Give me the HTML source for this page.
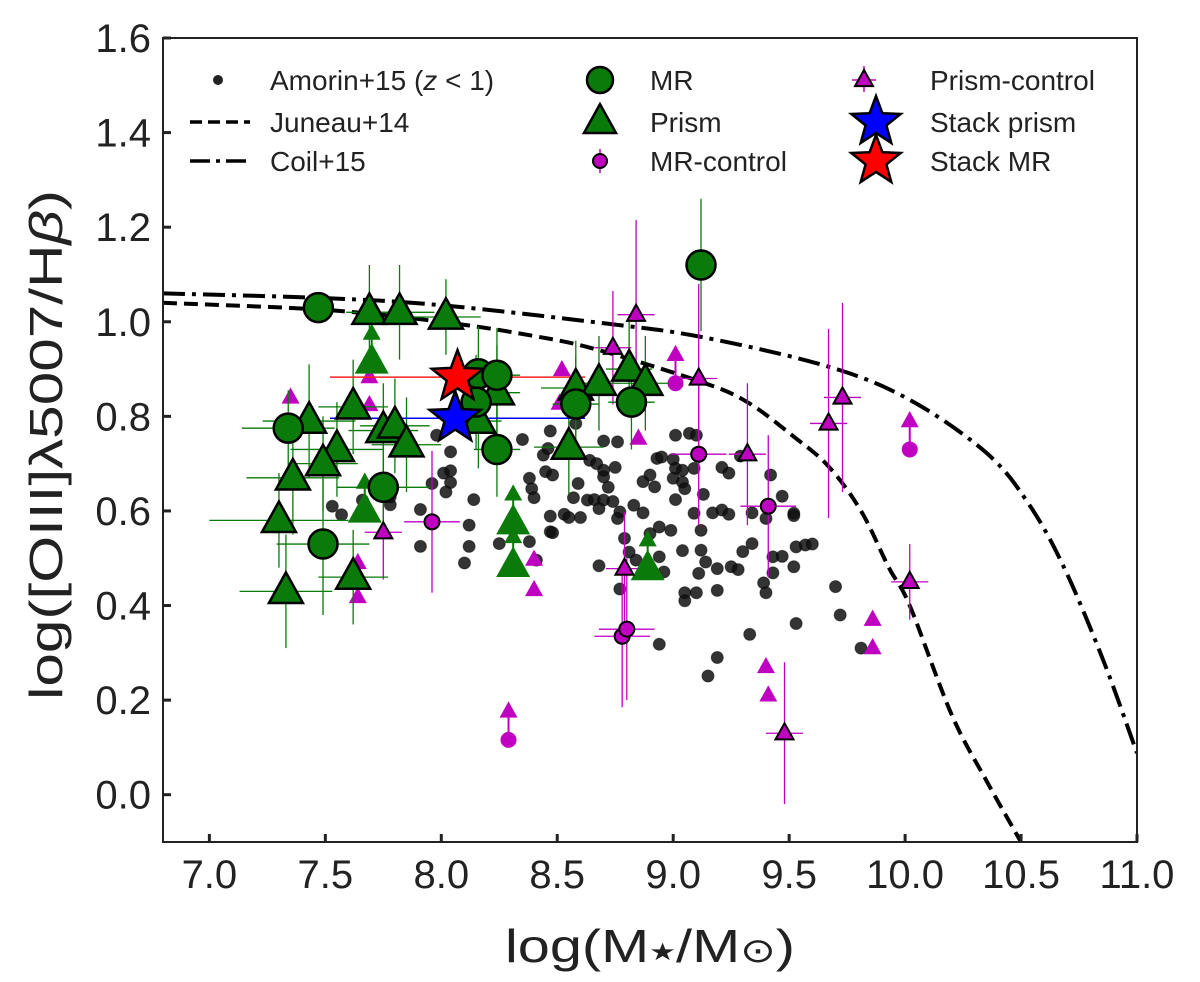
<!DOCTYPE html>
<html><head><meta charset="utf-8">
<style>
html,body{margin:0;padding:0;background:#fff;}
svg{display:block;font-family:"Liberation Sans",Arial,sans-serif;}
</style></head>
<body>
<svg id="chart" width="1200" height="982" viewBox="0 0 1200 982">
  <g id="marks"></g>
  <rect x="163" y="38" width="974" height="804" fill="none" stroke="#222" stroke-width="2"/>
  <g id="axes"></g>
  <text x="650" y="962" font-size="46" text-anchor="middle" fill="#222" textLength="290" lengthAdjust="spacingAndGlyphs">log(M<tspan font-size="24" dy="-2">★</tspan><tspan dy="2">/M</tspan><tspan font-size="34">⊙</tspan>)</text>
  <text transform="translate(62,445) rotate(-90)" font-size="46" text-anchor="middle" fill="#222" textLength="510" lengthAdjust="spacingAndGlyphs">log([OIII]λ5007/H<tspan font-style="italic">β</tspan>)</text>
  <g id="legend"></g>
</svg>
<script>
const xTicks=[7.0,7.5,8.0,8.5,9.0,9.5,10.0,10.5,11.0];
const xTickLabels=["7.0","7.5","8.0","8.5","9.0","9.5","10.0","10.5","11.0"];
const yTicks=[0.0,0.2,0.4,0.6,0.8,1.0,1.2,1.4,1.6];
const yTickLabels=["0.0","0.2","0.4","0.6","0.8","1.0","1.2","1.4","1.6"];

const amorinX=[7.53,7.57,7.66,7.78,7.78,7.98,8.04,8.01,8.04,8.04,8.02,7.96,8.14,7.91,8.12,7.91,8.12,8.10,8.25,8.38,8.41,8.35,8.47,8.44,8.46,8.45,8.48,8.38,8.39,8.40,8.47,8.53,8.55,8.60,8.47,8.48,8.57,8.59,8.58,8.70,8.76,8.64,8.67,8.70,8.70,8.75,8.72,8.63,8.66,8.70,8.74,8.68,8.77,8.76,8.83,8.87,8.79,8.81,8.84,8.68,8.77,8.94,8.99,8.90,8.94,8.96,8.87,8.90,8.92,8.93,8.95,9.00,9.01,9.04,9.09,9.00,9.04,9.05,9.01,9.01,9.07,9.10,9.13,9.09,9.17,9.21,9.24,9.12,9.04,9.12,9.14,9.11,9.19,9.25,9.28,9.05,9.10,9.05,9.19,9.21,9.24,9.29,9.34,9.42,9.47,9.52,9.40,9.30,9.34,9.43,9.47,9.43,9.52,9.53,9.57,9.39,9.40,9.53,9.33,9.19,9.15,8.94,9.70,9.72,9.81,9.60,9.52];
const amorinY=[0.61,0.592,0.623,0.613,0.63,0.76,0.725,0.68,0.685,0.66,0.64,0.658,0.624,0.603,0.57,0.525,0.525,0.49,0.531,0.535,0.496,0.751,0.769,0.718,0.732,0.683,0.676,0.669,0.647,0.628,0.589,0.593,0.586,0.586,0.556,0.554,0.628,0.658,0.785,0.748,0.746,0.707,0.70,0.686,0.672,0.692,0.65,0.623,0.624,0.623,0.62,0.605,0.598,0.584,0.612,0.596,0.542,0.513,0.496,0.484,0.435,0.566,0.559,0.552,0.503,0.471,0.662,0.676,0.651,0.711,0.714,0.709,0.69,0.686,0.69,0.669,0.661,0.647,0.624,0.76,0.764,0.76,0.635,0.595,0.596,0.602,0.593,0.559,0.516,0.517,0.492,0.468,0.478,0.482,0.476,0.427,0.427,0.41,0.432,0.692,0.68,0.716,0.596,0.676,0.631,0.595,0.584,0.514,0.531,0.503,0.504,0.469,0.482,0.524,0.528,0.448,0.427,0.362,0.339,0.29,0.251,0.318,0.44,0.38,0.31,0.53,0.59];

const juneauX=[6.8,7.5,8.0,8.4,8.68,9.12,9.32,9.52,9.67,9.81,9.93,10.02,10.2,10.35,10.5];
const juneauY=[1.04,1.025,1.0,0.97,0.94,0.873,0.83,0.757,0.694,0.60,0.48,0.40,0.17,0.03,-0.1];
const coilX=[6.8,7.5,8.0,8.68,9.12,9.67,10.02,10.35,10.53,10.68,10.85,11.0];
const coilY=[1.06,1.05,1.035,0.998,0.968,0.905,0.835,0.723,0.617,0.486,0.29,0.088];

const mrX=[7.47,9.12,7.34,7.75,7.49,8.16,8.24,8.15,8.24,8.58,8.82];
const mrY=[1.03,1.12,0.775,0.65,0.53,0.89,0.887,0.83,0.73,0.826,0.83];
const mrXe=[0.05,0.03,0.2,0.2,0.2,0.1,0.1,0.1,0.1,0.1,0.1];
const mrYe=[0.03,0.14,0.08,0.1,0.15,0.1,0.1,0.1,0.1,0.1,0.1];

const prismX=[7.69,7.82,8.02,7.43,7.62,7.75,7.80,7.85,7.55,7.49,7.36,7.30,7.33,7.62,8.24,8.16,8.55,8.58,8.68,8.81,8.88];
const prismY=[1.02,1.02,1.01,0.79,0.82,0.77,0.78,0.74,0.73,0.70,0.67,0.58,0.43,0.46,0.85,0.79,0.735,0.86,0.87,0.90,0.87];
const prismXe=[0.1,0.15,0.15,0.2,0.15,0.15,0.15,0.15,0.2,0.15,0.2,0.3,0.2,0.15,0.1,0.1,0.15,0.15,0.1,0.1,0.1];
const prismYe=[0.1,0.1,0.08,0.12,0.1,0.1,0.1,0.1,0.1,0.1,0.12,0.1,0.12,0.1,0.1,0.1,0.1,0.1,0.1,0.1,0.1];

const prismLimX=[7.70,7.67,8.31,8.31,8.89];
const prismLimY=[0.915,0.60,0.575,0.485,0.478];

const mrcX=[7.96,8.78,8.80,9.11,9.41];
const mrcY=[0.577,0.335,0.35,0.72,0.61];
const mrcLimX=[9.01,10.02,8.29];
const mrcLimY=[0.87,0.73,0.116];

const pcX=[7.75,8.74,8.84,9.11,9.32,9.48,9.67,9.73,10.02,8.79];
const pcY=[0.555,0.945,1.015,0.88,0.72,0.13,0.785,0.84,0.45,0.478];
const pcYe=[0.1,0.12,0.2,0.2,0.15,0.15,0.2,0.2,0.08,0.12];

const pcLimX=[7.69,7.69,7.64,7.64,8.52,8.51,8.40,8.40,8.85,9.40,9.41,9.86,9.86,7.35];
const pcLimY=[0.883,0.824,0.49,0.418,0.898,0.827,0.497,0.433,0.753,0.27,0.21,0.37,0.31,0.84];

const starX=[8.07,8.06];
const starY=[0.883,0.796];
const starXlo=[7.52,7.52];
const starXhi=[8.62,8.62];

const X0=163,X1=1137,Y0=842,Y1=38,XMIN=6.8,XMAX=11.0,YMIN=-0.1,YMAX=1.6;
function sx(v){return X0+(v-XMIN)/(XMAX-XMIN)*(X1-X0);}
function sy(v){return Y0-(v-YMIN)/(YMAX-YMIN)*(Y0-Y1);}
const NS="http://www.w3.org/2000/svg";
function mk(tag,attrs,parent){const e=document.createElementNS(NS,tag);for(const k in attrs)e.setAttribute(k,attrs[k]);parent.appendChild(e);return e;}
const marks=document.getElementById('marks');
const axes=document.getElementById('axes');
const legend=document.getElementById('legend');

const defs=mk('defs',{},marks);
const cp=mk('clipPath',{id:'clip'},defs);
mk('rect',{x:X0,y:Y1,width:X1-X0,height:Y0-Y1},cp);
const g=mk('g',{'clip-path':'url(#clip)'},marks);

xTicks.forEach((t,i)=>{
  const l=mk('line',{x1:sx(t),x2:sx(t),y1:Y0,y2:Y0-8,stroke:'#222','stroke-width':3},axes);
  
  
  const tx=mk('text',{x:sx(t),y:888,'font-size':40,'text-anchor':'middle',fill:'#222'},axes);
  tx.textContent=xTickLabels[i];
  
  
});
yTicks.forEach((t,i)=>{
  const l=mk('line',{x1:X0,x2:X0+8,y1:sy(t),y2:sy(t),stroke:'#222','stroke-width':3},axes);
  
  
  const tx=mk('text',{x:151,y:sy(t)+14,'font-size':40,'text-anchor':'end',fill:'#222'},axes);
  tx.textContent=yTickLabels[i];
  
  
});

function errbar(x,y,xe,ye,color,w){
  if(xe) mk('line',{x1:sx(x-xe),x2:sx(x+xe),y1:sy(y),y2:sy(y),stroke:color,'stroke-width':w||1.3},g);
  if(ye) mk('line',{x1:sx(x),x2:sx(x),y1:sy(y-ye),y2:sy(y+ye),stroke:color,'stroke-width':w||1.3},g);
}
function tri(cx,cy,s,fill,stroke,sw,parent){
  const h=s*0.9;
  return mk('polygon',{points:`${cx},${cy-h*0.62} ${cx-s/2},${cy+h*0.38} ${cx+s/2},${cy+h*0.38}`,fill:fill,stroke:stroke,'stroke-width':sw,'stroke-linejoin':'miter'},parent);
}
function star(cx,cy,R,fill,parent){
  let p=[];for(let k=0;k<10;k++){const r=k%2?R*0.42:R;const a=-Math.PI/2+k*Math.PI/5;p.push((cx+r*Math.cos(a)).toFixed(1)+','+(cy+r*Math.sin(a)).toFixed(1));}
  return mk('polygon',{points:p.join(' '),fill:fill,stroke:'#000','stroke-width':2.5},parent);
}

// smooth curve (Catmull-Rom)
function path(xs,ys){
  const P=xs.map((x,i)=>[sx(x),sy(ys[i])]);
  let d='M'+P[0][0].toFixed(1)+','+P[0][1].toFixed(1);
  for(let i=0;i<P.length-1;i++){
    const p0=P[Math.max(0,i-1)],p1=P[i],p2=P[i+1],p3=P[Math.min(P.length-1,i+2)];
    const c1=[p1[0]+(p2[0]-p0[0])/6,p1[1]+(p2[1]-p0[1])/6];
    const c2=[p2[0]-(p3[0]-p1[0])/6,p2[1]-(p3[1]-p1[1])/6];
    d+=` C${c1[0].toFixed(1)},${c1[1].toFixed(1)} ${c2[0].toFixed(1)},${c2[1].toFixed(1)} ${p2[0].toFixed(1)},${p2[1].toFixed(1)}`;
  }
  return d;
}
const jl=mk('path',{d:path(juneauX,juneauY),fill:'none',stroke:'#000','stroke-width':4,'stroke-dasharray':'14,7'},g);


const cl=mk('path',{d:path(coilX,coilY),fill:'none',stroke:'#000','stroke-width':4,'stroke-dasharray':'22,7,4,7'},g);



amorinX.forEach((x,i)=>{
  const c=mk('circle',{cx:sx(x),cy:sy(amorinY[i]),r:6,fill:'#111','fill-opacity':0.85,stroke:'#000','stroke-opacity':0.5},g);
  
  
});

mrcX.forEach((x,i)=>{errbar(x,mrcY[i],0.12,0.15,'#c000c0');});
pcX.forEach((x,i)=>{errbar(x,pcY[i],0.08,pcYe[i],'#c000c0');});
pcLimX.forEach((x,i)=>{
  const t=tri(sx(x),sy(pcLimY[i]),18,'#c000c0','none',0,g);
  
  
});
mrcLimX.forEach((x,i)=>{
  errbar(x,mrcLimY[i]+0.03,0,0.03,'#c000c0',2);
  tri(sx(x),sy(mrcLimY[i]+0.06),18,'#c000c0','none',0,g);
  const c=mk('circle',{cx:sx(x),cy:sy(mrcLimY[i]),r:8,fill:'#c000c0'},g);
  
  
});

mrX.forEach((x,i)=>errbar(x,mrY[i],mrXe[i],mrYe[i],'#0a7a0a'));
prismX.forEach((x,i)=>errbar(x,prismY[i],prismXe[i],prismYe[i],'#0a7a0a'));
starX.forEach((x,i)=>{
  mk('line',{x1:sx(starXlo[i]),x2:sx(starXhi[i]),y1:sy(starY[i]),y2:sy(starY[i]),stroke:i?'#0000ff':'#ff2020','stroke-width':1.5},g);
});

prismLimX.forEach((x,i)=>{
  errbar(x,prismLimY[i]+0.03,0,0.03,'#0a7a0a',2);
  tri(sx(x),sy(prismLimY[i]+0.06),18,'#0a7a0a','none',0,g);
  const t=tri(sx(x),sy(prismLimY[i]),34,'#0a7a0a','none',0,g);
  
  
});
prismX.forEach((x,i)=>{
  const t=tri(sx(x),sy(prismY[i]),34,'#0a7a0a','#000',2.5,g);
  
  
});
mrX.forEach((x,i)=>{
  const c=mk('circle',{cx:sx(x),cy:sy(mrY[i]),r:14.5,fill:'#0a7a0a',stroke:'#000','stroke-width':2.5},g);
  
  
});
mrcX.forEach((x,i)=>{
  const c=mk('circle',{cx:sx(x),cy:sy(mrcY[i]),r:7.5,fill:'#c000c0',stroke:'#000','stroke-width':2},g);
  
  
});
pcX.forEach((x,i)=>{
  const t=tri(sx(x),sy(pcY[i]),18,'#c000c0','#000',2,g);
  
  
});
const s1=star(sx(starX[1]),sy(starY[1]),27,'#0000ff',g);


const s0=star(sx(starX[0]),sy(starY[0]),27,'#ff0000',g);



function ltext(x,y,t,name){const e=mk('text',{x:x,y:y,'font-size':28,fill:'#222'},legend);e.textContent=t;return e;}
mk('circle',{cx:218,cy:80,r:5,fill:'#222'},legend);
const a=ltext(270,90,'Amorin+15 (','legend-amorin');
const ts=mk('tspan',{'font-style':'italic'},a);ts.textContent='z';
const ts2=mk('tspan',{},a);ts2.textContent=' < 1)';
mk('line',{x1:190,x2:250,y1:122,y2:122,stroke:'#000','stroke-width':3.5,'stroke-dasharray':'12,6'},legend);
ltext(270,132,'Juneau+14','legend-juneau');
mk('line',{x1:190,x2:250,y1:161,y2:161,stroke:'#000','stroke-width':3.5,'stroke-dasharray':'20,6,4,6'},legend);
ltext(270,171,'Coil+15','legend-coil');
mk('circle',{cx:600,cy:80,r:13,fill:'#0a7a0a',stroke:'#000','stroke-width':2.5},legend);
ltext(650,90,'MR','legend-mr');
tri(600,122,32,'#0a7a0a','#000',2.5,legend);
ltext(650,132,'Prism','legend-prism');
mk('line',{x1:600,x2:600,y1:149,y2:173,stroke:'#c000c0','stroke-width':1.5},legend);
mk('circle',{cx:600,cy:161,r:7,fill:'#c000c0',stroke:'#000','stroke-width':2},legend);
ltext(650,171,'MR-control','legend-mr-control');
mk('line',{x1:864,x2:864,y1:66,y2:92,stroke:'#c000c0','stroke-width':1.5},legend);
mk('line',{x1:852,x2:876,y1:80,y2:80,stroke:'#c000c0','stroke-width':1.5},legend);
tri(864,80,18,'#c000c0','#000',2,legend);
ltext(930,90,'Prism-control','legend-prism-control');
star(876,122,26,'#0000ff',legend);
ltext(930,132,'Stack prism','legend-stack-prism');
star(876,161,26,'#ff0000',legend);
ltext(930,171,'Stack MR','legend-stack-mr');
</script>
</body></html>
